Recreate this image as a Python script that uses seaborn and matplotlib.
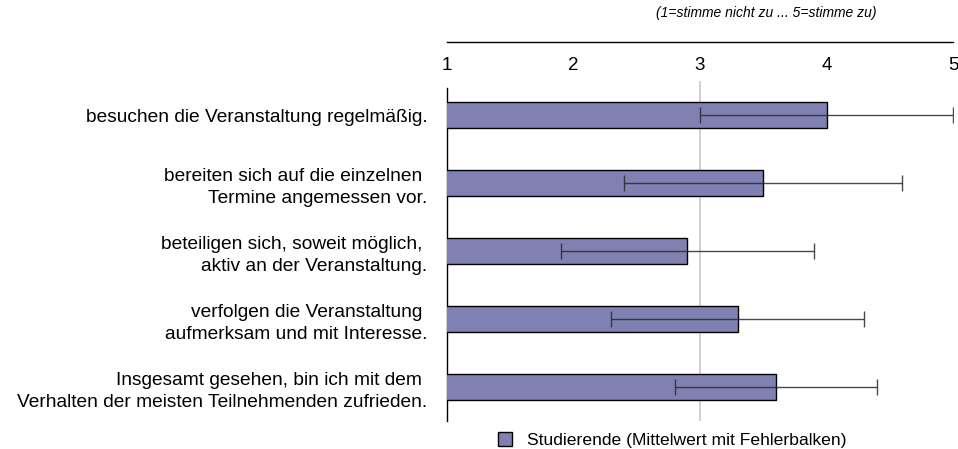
import pandas as pd
import matplotlib.pyplot as plt
import seaborn as sns
from matplotlib.lines import Line2D

# Daten
items = [
    "besuchen die Veranstaltung regelmäßig.",
    "bereiten sich auf die einzelnen \nTermine angemessen vor.",
    "beteiligen sich, soweit möglich, \naktiv an der Veranstaltung.",
    "verfolgen die Veranstaltung \naufmerksam und mit Interesse.",
    "Insgesamt gesehen, bin ich mit dem \nVerhalten der meisten Teilnehmenden zufrieden.",
]
mittelwert = [4.0, 3.5, 2.9, 3.3, 3.6]
fehler = [1.0, 1.1, 1.0, 1.0, 0.8]
scale_ticks = [1, 2, 3, 4, 5]

df = pd.DataFrame({"item": items, "mw": mittelwert, "sd": fehler})

sns.set_style("white")
plt.rcParams['font.family'] = ['Liberation Sans', 'DejaVu Sans']
plt.rcParams['text.color'] = 'black'
plt.rcParams['xtick.color'] = 'black'
plt.rcParams['ytick.color'] = 'black'

W, H = 958, 449
fig = plt.figure(figsize=(W / 100, H / 100), dpi=100)

bar_color = "#8080b2"

# Hauptdiagramm
x0, x1 = 447 / W, 953 / W
ax = fig.add_axes([x0, 1 - 421 / H, x1 - x0, (421 - 81) / H])
sns.barplot(data=df, y="item", x="mw", orient="h", color=bar_color,
            edgecolor="black", linewidth=1.0, width=0.37, saturation=1,
            errorbar=None, ax=ax, zorder=3)
ax.errorbar(df["mw"], range(len(df)), xerr=df["sd"], fmt="none",
            ecolor="#2a2a2a", elinewidth=1.0, capsize=6, capthick=1.0, zorder=4, alpha=0.85)
ax.axvline(3, color="#c8c8c8", linewidth=1.2, zorder=1)
ax.set_xlim(1, 5)
ax.set_ylim(len(df) - 0.5, -0.5)
ax.set_xlabel("")
ax.set_ylabel("")
ax.set_xticks([])
for s in ["top", "right", "bottom"]:
    ax.spines[s].set_visible(False)
ax.spines["left"].set_color("black")
ax.spines["left"].set_linewidth(1.0)
ax.spines["left"].set_bounds(len(df) - 0.5, -0.4)
ax.tick_params(axis="y", length=0, pad=14, labelsize=13.8, labelcolor="black")
for lbl in ax.get_yticklabels():
    lbl.set_multialignment("right")
    lbl.set_linespacing(1.36)

# Skala oben
sax = fig.add_axes([x0, 1 - 42 / H, x1 - x0, 0.001])
sax.set_xlim(1, 5)
sax.set_xticks(scale_ticks)
sax.set_yticks([])
sax.patch.set_visible(False)
for s in ["top", "right", "left"]:
    sax.spines[s].set_visible(False)
sax.spines["bottom"].set_linewidth(1.0)
sax.spines["bottom"].set_color("black")
sax.tick_params(axis="x", direction="out", length=7, width=1.0, pad=4,
                labelsize=13.5, labelcolor="black")

fig.text(877 / W, 1 - 13 / H, "(1=stimme nicht zu ... 5=stimme zu)",
         ha="right", va="center", fontsize=10, style="italic")

# Legende
handle = Line2D([], [], marker="s", linestyle="none", markersize=10,
                markerfacecolor=bar_color, markeredgecolor="black")
fig.legend([handle], ["Studierende (Mittelwert mit Fehlerbalken)"],
           loc="center", bbox_to_anchor=(667 / W, 1 - 440 / H), frameon=False,
           fontsize=12.6, handletextpad=0.3, borderpad=0)

fig.savefig("out.png", dpi=100)
